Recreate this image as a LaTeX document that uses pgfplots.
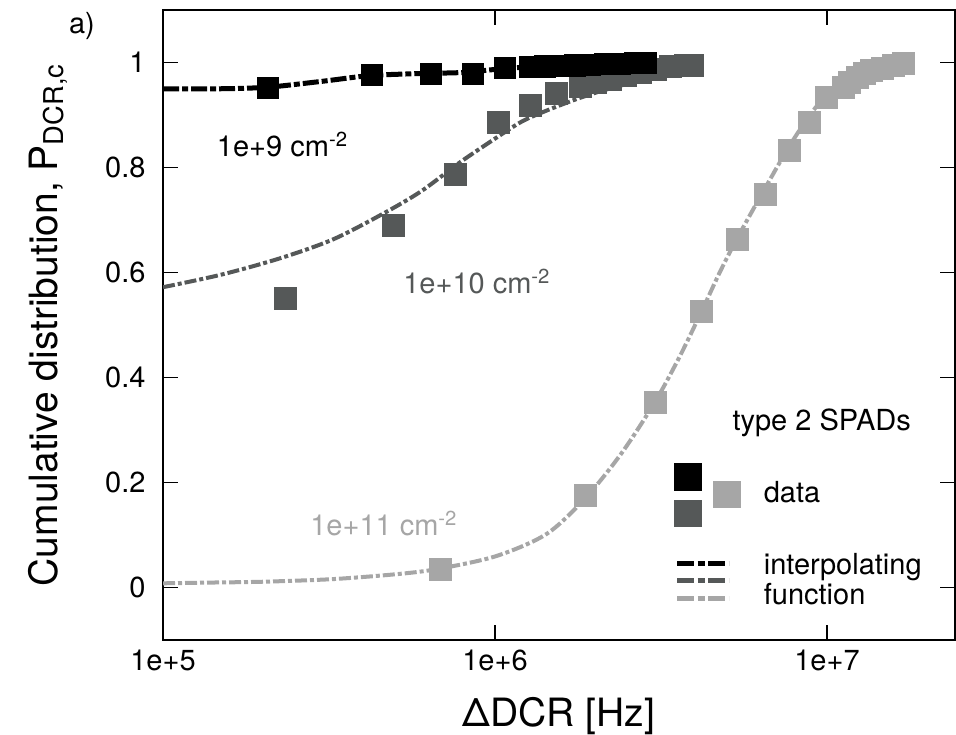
\documentclass[border=0pt]{standalone}
\usepackage{fontspec}
\setmainfont{TeX Gyre Heros}
\usepackage{pgfplots}
\pgfplotsset{compat=1.18}
\definecolor{dg}{RGB}{85,88,88}
\definecolor{lg}{RGB}{166,166,166}
\newcommand{\fs}{\fontsize{14.5}{15}\selectfont}
\begin{document}
\begin{tikzpicture}
\path[use as bounding box] (-81.5pt,-47pt) rectangle (396.5pt,320pt);
\begin{axis}[
  at={(0pt,0pt)}, anchor=south west,
  scale only axis, width=396pt, height=315pt,
  xmode=log, xmin=1e5, xmax=2.43e7, ymin=-0.1, ymax=1.1,
  xtick={1e5,1e6,1e7}, xticklabels={1e+5,1e+6,1e+7},
  ytick={0,0.2,0.4,0.6,0.8,1}, yticklabels={0,0.2,0.4,0.6,0.8,1},
  xminorticks=false, yminorticks=false,
  tick align=inside, major tick length=7.5pt,
  axis line style={line width=0.9pt},
  every tick/.style={line width=0.9pt, black},
  ticklabel style={font=\fs},
  yticklabel style={xshift=-5.2pt},
  xticklabel style={yshift=-1.5pt},
  xlabel={ΔDCR [Hz]},
  ylabel={Cumulative distribution, P\textsubscript{DCR,c}},
  label style={font=\fontsize{19.5}{22}\selectfont},
  xlabel style={at={(axis description cs:0.5,-0.1376)}, anchor=base},
  ylabel style={at={(axis description cs:-0.1338,0.5)}, anchor=base},
  legend style={draw=none, fill=none, inner sep=0pt, outer sep=0pt,
    at={(axis description cs:0.6456,0.367)}, anchor=north west,
    nodes={inner sep=0pt, font=\fs}, cells={align=left},
    column sep=28.7pt, row sep=23.95pt},
  legend cell align=left,
]
% 1e10 series
\addplot[forget plot, dg, line width=2pt, dash pattern=on 6pt off 1.5pt on 2pt off 1.5pt, smooth] coordinates {
(1e5,0.572) (1.5e5,0.596) (2.25e5,0.627) (3.25e5,0.663) (4.6e5,0.712) (6e5,0.755)
(7.85e5,0.810) (1e6,0.855) (1.2e6,0.887) (1.4e6,0.906) (1.72e6,0.928) (2.07e6,0.945)
(2.6e6,0.962) (3.3e6,0.976) (4.2e6,0.985)};
\addplot[forget plot, only marks, mark=square*, mark size=5.5pt, mark options={solid, draw=dg, fill=dg, line width=0.2pt}] coordinates {
(2.33e5,0.552) (4.94e5,0.691) (7.59e5,0.788) (1.02e6,0.887) (1.28e6,0.919) (1.53e6,0.941)
(1.80e6,0.955) (2.0e6,0.962) (2.22e6,0.968) (2.46e6,0.975) (2.74e6,0.982) (3.03e6,0.988)
(3.37e6,0.992) (3.73e6,0.994) (3.92e6,0.995)};
% 1e9 series
\addplot[forget plot, black, line width=2.5pt, dash pattern=on 8pt off 1.5pt on 3pt off 1.5pt, smooth] coordinates {
(1e5,0.950) (1.5e5,0.950) (2.07e5,0.953) (3e5,0.964) (4.2e5,0.975) (6e5,0.979)
(8e5,0.981) (1.05e6,0.988) (1.4e6,0.993) (2e6,0.997) (2.9e6,1.0)};
\addplot[forget plot, only marks, mark=square*, mark size=5.3pt, mark options={solid, draw=black, fill=black, line width=0.2pt}] coordinates {
(2.07e5,0.952) (4.24e5,0.976) (6.4e5,0.979) (8.55e5,0.979) (1.07e6,0.990)
(1.275e6,0.992) (1.415e6,0.993) (1.57e6,0.994) (1.742e6,0.995) (1.932e6,0.996)
(2.144e6,0.997) (2.38e6,0.998) (2.641e6,0.999) (2.851e6,1.0)};
% 1e11 series
\addplot[forget plot, lg, line width=2pt, dash pattern=on 6pt off 1.5pt on 2pt off 1.5pt, smooth] coordinates {
(1e5,0.008) (1.42e5,0.0095) (2e5,0.011) (3.25e5,0.016) (5.17e5,0.026) (6.82e5,0.036)
(1.01e6,0.060) (1.43e6,0.102) (1.87e6,0.170) (2.4e6,0.255) (3.03e6,0.353) (3.6e6,0.440)
(4.19e6,0.526) (4.75e6,0.600) (5.35e6,0.664) (6.5e6,0.760) (7.69e6,0.840) (8.84e6,0.898)
(1e7,0.940) (1.15e7,0.968) (1.3e7,0.985) (1.5e7,0.995) (1.8e7,1.0)};
\addplot[forget plot, only marks, mark=square*, mark size=5.5pt, mark options={solid, draw=lg, fill=lg, line width=0.2pt}] coordinates {
(6.82e5,0.035) (1.87e6,0.175) (3.03e6,0.353) (4.19e6,0.526) (5.35e6,0.664) (6.5e6,0.750)
(7.69e6,0.833) (8.84e6,0.886) (9.97e6,0.933) (1.12e7,0.953) (1.17e7,0.962) (1.23e7,0.972)
(1.29e7,0.979) (1.36e7,0.985) (1.47e7,0.990) (1.585e7,0.995) (1.70e7,0.998)};
% legend
\addlegendimage{legend image code/.code={
  \path (0pt,0pt);
  \fill[black,overlay] (0pt,-34.5pt) rectangle (13.2pt,-21.3pt);
  \fill[dg,overlay] (0pt,-52.85pt) rectangle (13.2pt,-39.65pt);
  \fill[lg,overlay] (19.5pt,-43.35pt) rectangle (32.8pt,-30.15pt);
  \draw[black,overlay,line width=2.8pt,dash pattern=on 8.5pt off 1.7pt on 3.7pt off 1.7pt] (1.2pt,-71.25pt) -- (27pt,-71.25pt);
  \draw[dg,overlay,line width=2.6pt,dash pattern=on 8.5pt off 1.7pt on 3.7pt off 1.7pt] (1.2pt,-79.6pt) -- (27pt,-79.6pt);
  \draw[lg,overlay,line width=2.3pt,dash pattern=on 8.5pt off 1.7pt on 3.7pt off 1.7pt] (1.2pt,-88.75pt) -- (27pt,-88.75pt);
}}
\addlegendentry[xshift=-15.65pt]{type 2 SPADs}
\addlegendimage{empty legend}
\addlegendentry{data}
\addlegendimage{empty legend}
\addlegendentry[yshift=-3pt]{interpolating\\function}
% annotations
\node[anchor=base west, inner sep=0pt, font=\fs] at (axis cs:1.45e5,0.820) {1e+9 cm\textsuperscript{-2}};
\node[anchor=base west, inner sep=0pt, font=\fs, text=dg] at (axis cs:5.28e5,0.560) {1e+10 cm\textsuperscript{-2}};
\node[anchor=base west, inner sep=0pt, font=\fs, text=lg] at (axis cs:2.77e5,0.0986) {1e+11 cm\textsuperscript{-2}};
\end{axis}
\node[font=\fs] at (-40.5pt,307pt) {a)};
\end{tikzpicture}
\end{document}
